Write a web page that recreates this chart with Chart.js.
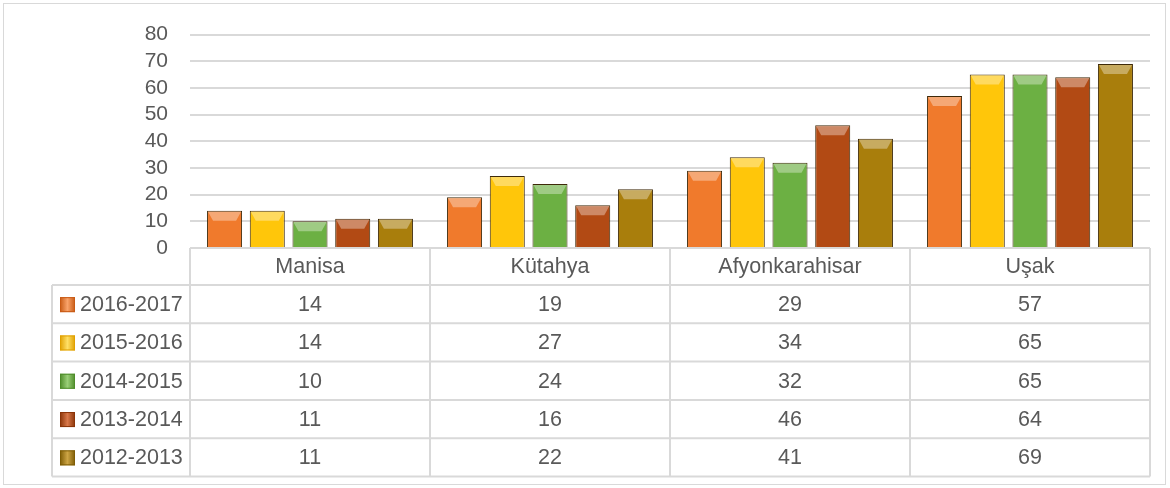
<!DOCTYPE html>
<html>
<head>
    <title>Bar chart with data table</title>
    <script src="https://cdn.jsdelivr.net/npm/chart.js"></script>
    <style>
        body { margin: 0; background: #fff; }
        #wrap { position: relative; width: 1170px; height: 488px; }
    </style>
</head>
<body>
    <div id="wrap">
        <canvas id="myChart" width="1170" height="488"></canvas>
    </div>

    <script>
        // data
        const cities = ['Manisa', 'Kütahya', 'Afyonkarahisar', 'Uşak'];
        const seriesNames = ['2016-2017', '2015-2016', '2014-2015', '2013-2014', '2012-2013'];
        const v20162017 = [14, 19, 29, 57];
        const v20152016 = [14, 27, 34, 65];
        const v20142015 = [10, 24, 32, 65];
        const v20132014 = [11, 16, 46, 64];
        const v20122013 = [11, 22, 41, 69];
        const yTicks = [0, 10, 20, 30, 40, 50, 60, 70, 80];

        const seriesValues = [v20162017, v20152016, v20142015, v20132014, v20122013];
        const baseColors = ['#F07A2C', '#FFC60A', '#6CB043', '#B24A14', '#A97E0C'];
        const lightColors = ['#F9A36A', '#FFE066', '#9ACF78', '#D9784A', '#CDA545'];
        const darkColors = ['#C85A14', '#E0A000', '#4E8C2A', '#8A3408', '#7E5C05'];

        const FONT = '"Liberation Sans", Arial, sans-serif';
        const TEXT = '#595959';
        const LINE = '#D9D9D9';

        function barFill(i) {
            return function (ctx) {
                const el = ctx.element;
                if (!el || el.width === undefined) return baseColors[i];
                const g = ctx.chart.ctx.createLinearGradient(el.x - el.width / 2, 0, el.x + el.width / 2, 0);
                g.addColorStop(0, darkColors[i]);
                g.addColorStop(0.12, baseColors[i]);
                g.addColorStop(0.5, lightColors[i]);
                g.addColorStop(0.88, baseColors[i]);
                g.addColorStop(1, darkColors[i]);
                return g;
            };
        }

        // bevel highlight at the top of each bar
        const bevel = {
            id: 'bevel',
            afterDatasetsDraw(chart) {
                const c = chart.ctx;
                chart.data.datasets.forEach((ds, i) => {
                    chart.getDatasetMeta(i).data.forEach(bar => {
                        const l = bar.x - bar.width / 2, r = bar.x + bar.width / 2;
                        const t = bar.y, h = Math.min(10, (bar.base - bar.y) / 2);
                        c.save();
                        c.fillStyle = 'rgba(255,255,255,0.35)';
                        c.beginPath();
                        c.moveTo(l + 1, t + 1);
                        c.lineTo(r - 1, t + 1);
                        c.lineTo(r - 6, t + h);
                        c.lineTo(l + 6, t + h);
                        c.closePath();
                        c.fill();
                        c.restore();
                    });
                });
            }
        };

        // data table under the plot, columns follow the x scale
        const dataTable = {
            id: 'dataTable',
            afterDraw(chart) {
                const c = chart.ctx;
                const xs = chart.scales.x;
                const area = chart.chartArea;
                const left = 52;
                const top = area.bottom;
                const headH = 37;
                const rowH = 38.3;
                const colW = (area.right - area.left) / cities.length;
                const bottom = top + headH + rowH * seriesNames.length;

                c.save();
                // outer border of the chart
                c.strokeStyle = LINE;
                c.lineWidth = 1;
                c.strokeRect(3.5, 3.5, 1162, 481);

                c.lineWidth = 2;
                c.beginPath();
                c.moveTo(area.left, top);
                c.lineTo(area.right, top);
                for (let r = 0; r <= seriesNames.length; r++) {
                    const y = top + headH + r * rowH;
                    c.moveTo(left, y);
                    c.lineTo(area.right, y);
                }
                c.moveTo(left, top + headH);
                c.lineTo(left, bottom);
                for (let k = 0; k <= cities.length; k++) {
                    const x = area.left + k * colW;
                    c.moveTo(x, top);
                    c.lineTo(x, bottom);
                }
                c.stroke();

                c.fillStyle = TEXT;
                c.font = '21.5px ' + FONT;
                c.textAlign = 'center';
                c.textBaseline = 'middle';
                cities.forEach((name, k) => {
                    const x = xs.getPixelForValue(k);
                    c.fillText(name, x, top + headH / 2 + 1);
                    seriesValues.forEach((vals, r) => {
                        c.fillText(String(vals[k]), x, top + headH + r * rowH + rowH / 2 + 1);
                    });
                });

                c.textAlign = 'left';
                seriesNames.forEach((name, r) => {
                    const cy = top + headH + r * rowH + rowH / 2;
                    const g = c.createLinearGradient(60, 0, 75, 0);
                    g.addColorStop(0, darkColors[r]);
                    g.addColorStop(0.5, lightColors[r]);
                    g.addColorStop(1, darkColors[r]);
                    c.fillStyle = g;
                    c.fillRect(60, cy - 7, 15, 15);
                    c.strokeStyle = darkColors[r];
                    c.lineWidth = 1;
                    c.strokeRect(60.5, cy - 6.5, 14, 14);
                    c.fillStyle = TEXT;
                    c.fillText(name, 80, cy + 1);
                });
                c.restore();
            }
        };

        const ctx = document.getElementById('myChart').getContext('2d');
        const myChart = new Chart(ctx, {
            type: 'bar',
            data: {
                labels: cities,
                datasets: seriesNames.map((name, i) => ({
                    label: name,
                    data: seriesValues[i],
                    backgroundColor: barFill(i),
                    borderColor: '#3E2A0A',
                    borderWidth: 1,
                    categoryPercentage: 0.89,
                    barPercentage: 0.82
                }))
            },
            options: {
                responsive: false,
                animation: false,
                layout: { padding: { top: 32, right: 20, bottom: 232, left: 0 } },
                plugins: {
                    legend: { display: false },
                    tooltip: { enabled: false }
                },
                scales: {
                    x: {
                        ticks: { display: false },
                        grid: { display: false },
                        border: { display: false }
                    },
                    y: {
                        min: 0,
                        max: 80,
                        afterBuildTicks(scale) {
                            scale.ticks = yTicks.map(v => ({ value: v }));
                        },
                        afterFit(scale) { scale.width = 190; },
                        ticks: {
                            color: TEXT,
                            padding: 22,
                            autoSkip: false,
                            font: { family: FONT, size: 21 }
                        },
                        grid: { color: LINE, lineWidth: 2, drawTicks: false },
                        border: { display: false }
                    }
                }
            },
            plugins: [bevel, dataTable]
        });
    </script>
</body>
</html>
